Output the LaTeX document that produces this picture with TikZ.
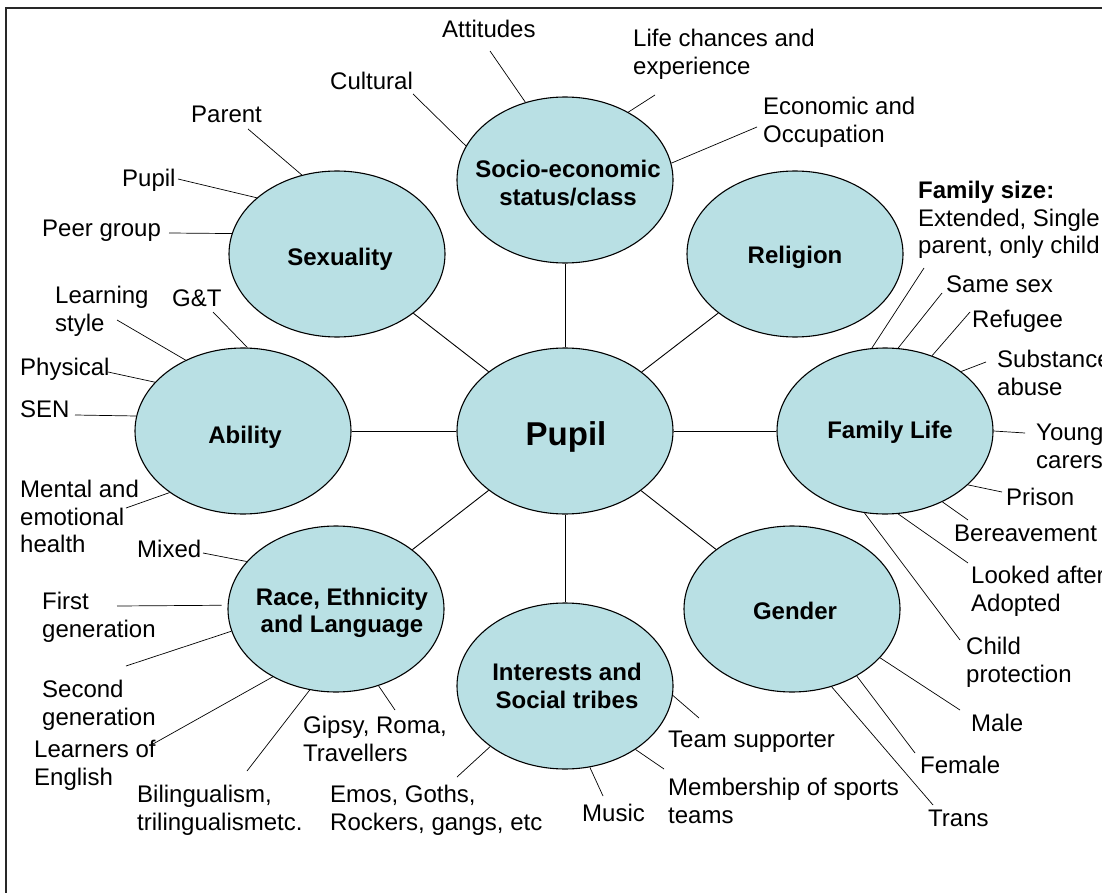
\documentclass[tikz,border=0pt]{standalone}
\usepackage{fontspec}
\setmainfont{Liberation Sans}
\usetikzlibrary{shapes.geometric,positioning}
\definecolor{bubble}{RGB}{185,224,228}
\definecolor{frame}{RGB}{40,40,40}

\begin{document}
\begin{tikzpicture}[x=1pt, y=-1pt,
    blob/.style={ellipse, draw=black, line width=1.1pt, fill=bubble,
                 minimum width=216pt, minimum height=166pt, inner sep=0pt},
    blobtxt/.style={font=\fontsize{24}{27.5}\selectfont\bfseries, align=center, inner sep=0pt},
    lbl/.style={font=\fontsize{24}{27.5}\selectfont, align=left, inner sep=0pt, anchor=north west},
    twig/.style={line width=0.7pt},
    spoke/.style={line width=0.9pt}]

    \useasboundingbox (0,0) rectangle (1102,893);
    \clip (0,0) rectangle (1102,893);
    \draw[line width=2pt, frame] (6,8) rectangle (1130,920);

    % =========================================================================
    % BULLES
    % =========================================================================
    \node[blob] (pupil) at (565,431) {};
    \node[blob] (soc)   at (565,180) {};
    \node[blob] (sex)   at (337,254) {};
    \node[blob] (rel)   at (795,254) {};
    \node[blob] (abil)  at (243,431) {};
    \node[blob] (fam)   at (885,431) {};
    \node[blob] (race)  at (336,609) {};
    \node[blob] (gend)  at (792,609) {};
    \node[blob] (tribe) at (565,686) {};

    \node[blobtxt, font=\fontsize{33}{38}\selectfont\bfseries] (pupiltxt) at (566,437) {Pupil};
    \node[blobtxt] (soctxt)   at (568,183) {Socio-economic\\status/class};
    \node[blobtxt] (sextxt)   at (340,259) {Sexuality};
    \node[blobtxt] (reltxt)   at (795,257) {Religion};
    \node[blobtxt] (abiltxt)  at (245,437) {Ability};
    \node[blobtxt] (famtxt)   at (890,432) {Family Life};
    \node[blobtxt] (racetxt)  at (342,613) {Race, Ethnicity\\and Language};
    \node[blobtxt] (gendtxt)  at (795,611) {Gender};
    \node[blobtxt] (tribetxt) at (567,686) {Interests and\\Social tribes};

    % Rayons
    \draw[spoke] (pupil) -- (soc);
    \draw[spoke] (pupil) -- (sex);
    \draw[spoke] (pupil) -- (rel);
    \draw[spoke] (pupil) -- (abil);
    \draw[spoke] (pupil) -- (fam);
    \draw[spoke] (pupil) -- (race);
    \draw[spoke] (pupil) -- (gend);
    \draw[spoke] (pupil) -- (tribe);

    % =========================================================================
    % SOCIO-ECONOMIC
    % =========================================================================
    \node[lbl] (att) at (442,20) {Attitudes};
    \node[lbl] (cul) at (330,72) {Cultural};
    \node[lbl] (life) at (633,29) {Life chances and\\experience};
    \node[lbl] (eco) at (763,97) {Economic and\\Occupation};
    \draw[twig] (490,51) coordinate (att-e) -- (soc.117);
    \draw[twig] (413,94) coordinate (cul-e) -- (soc.161);
    \draw[twig] (655,95) coordinate (life-e) -- (soc.47);
    \draw[twig] (757,127) coordinate (eco-e) -- (soc.9);

    % =========================================================================
    % SEXUALITY
    % =========================================================================
    \node[lbl] (par) at (191,106) {Parent};
    \node[lbl] (lpup) at (122,169) {Pupil};
    \node[lbl] (peer) at (42,220) {Peer group};
    \draw[twig] (248,129) coordinate (par-e) -- (sex.114);
    \draw[twig] (178,179) coordinate (lpup-e) -- (sex.145);
    \draw[twig] (169,233) coordinate (peer-e) -- (sex.169);

    % =========================================================================
    % ABILITY
    % =========================================================================
    \node[lbl] (learn) at (55,286) {Learning\\style};
    \node[lbl] (gt) at (172,290) {G\&T};
    \node[lbl] (phys) at (20,358) {Physical};
    \node[lbl] (sen) at (20,401) {SEN};
    \node[lbl] (ment) at (20,480) {Mental and\\emotional\\health};
    \draw[twig] (117,320) coordinate (learn-e) -- (abil.129);
    \draw[twig] (213,312) coordinate (gt-e) -- (abil.87);
    \draw[twig] (108,372) coordinate (phys-e) -- (abil.151);
    \draw[twig] (75,415) coordinate (sen-e) -- (abil.172);
    \draw[twig] (126,508) coordinate (ment-e) -- (abil.220);

    % =========================================================================
    % RACE, ETHNICITY AND LANGUAGE
    % =========================================================================
    \node[lbl] (mix) at (137,540) {Mixed};
    \node[lbl] (first) at (42,592) {First\\generation};
    \node[lbl] (second) at (42,680) {Second\\generation};
    \node[lbl] (lrn) at (34,740) {Learners of\\English};
    \node[lbl] (bil) at (137,785) {Bilingualism,\\trilingualismetc.};
    \node[lbl] (gip) at (303,716) {Gipsy, Roma,\\Travellers};
    \draw[twig] (203,553) coordinate (mix-e) -- (race.152);
    \draw[twig, shorten >=6pt] (117,606) coordinate (first-e) -- (race.178);
    \draw[twig] (126,666) coordinate (second-e) -- (race.192);
    \draw[twig] (153,744) coordinate (lrn-e) -- (race.227);
    \draw[twig] (247,771) coordinate (bil-e) -- (race.252);
    \draw[twig] (395,710) coordinate (gip-e) -- (race.299);

    % =========================================================================
    % INTERESTS AND SOCIAL TRIBES
    % =========================================================================
    \node[lbl] (emo) at (330,785) {Emos, Goths,\\Rockers, gangs, etc};
    \node[lbl] (mus) at (582,804) {Music};
    \node[lbl] (team) at (668,731) {Team supporter};
    \node[lbl] (memb) at (668,778) {Membership of sports\\teams};
    \draw[twig] (457,777) coordinate (emo-e) -- (tribe.219);
    \draw[twig] (603,796) coordinate (mus-e) -- (tribe.287);
    \draw[twig] (699,718) coordinate (team-e) -- (tribe.355);
    \draw[twig] (664,769) coordinate (memb-e) -- (tribe.318);

    % =========================================================================
    % GENDER
    % =========================================================================
    \node[lbl] (male) at (971,714) {Male};
    \node[lbl] (fem) at (920,756) {Female};
    \node[lbl] (trans) at (928,810) {Trans};
    \draw[twig] (960,710) coordinate (male-e) -- (gend.331);
    \draw[twig] (915,753) coordinate (fem-e) -- (gend.314);
    \draw[twig] (933,805) coordinate (trans-e) -- (gend.297);

    % =========================================================================
    % FAMILY LIFE
    % =========================================================================
    \node[lbl] (size) at (918,181) {\textbf{Family size:}\\Extended, Single\\parent, only child};
    \node[lbl] (same) at (946,276) {Same sex};
    \node[lbl] (ref) at (972,310) {Refugee};
    \node[lbl] (subst) at (997,350) {Substance\\abuse};
    \node[lbl] (young) at (1036,424) {Young\\carers};
    \node[lbl] (pris) at (1006,488) {Prison};
    \node[lbl] (ber) at (954,525) {Bereavement};
    \node[lbl] (look) at (971,566) {Looked after\\Adopted};
    \node[lbl] (child) at (966,637) {Child\\protection};
    \draw[twig] (924,268) coordinate (size-e) -- (fam.99);
    \draw[twig] (942,293) coordinate (same-e) -- (fam.81);
    \draw[twig] (970,312) coordinate (ref-e) -- (fam.58);
    \draw[twig] (986,362) coordinate (subst-e) -- (fam.38);
    \draw[twig] (1025,433) coordinate (young-e) -- (fam.east);
    \draw[twig] (1002,492) coordinate (pris-e) -- (fam.327);
    \draw[twig] (968,520) coordinate (ber-e) -- (fam.309);
    \draw[twig] (968,563) coordinate (look-e) -- (fam.279);
    \draw[twig] (960,640) coordinate (child-e) -- (fam.256);
\end{tikzpicture}
\end{document}
